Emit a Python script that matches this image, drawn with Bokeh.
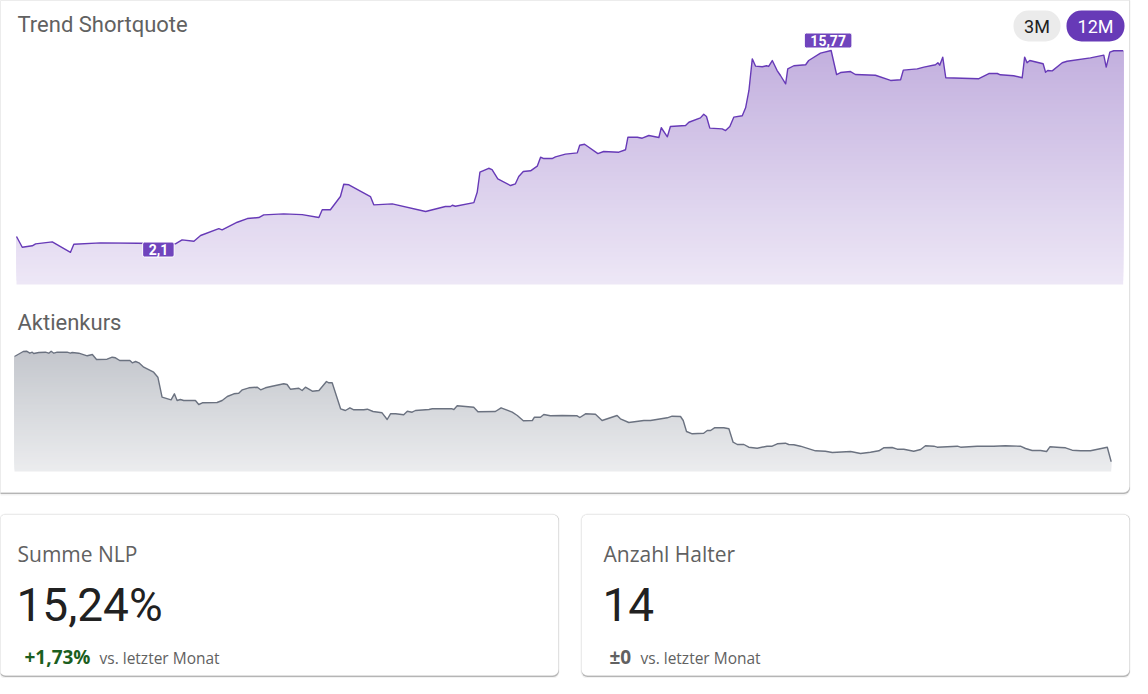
import numpy as np
from bokeh.plotting import figure
from bokeh.models import Range1d, BoxAnnotation, Label
from bokeh.embed import file_html
from bokeh.resources import INLINE

# ------------------------------------------------------------------ data
# Trend Shortquote (12M): day offset within the period, value
trend_day = [0, 1.9, 5.2, 6.3, 11.8, 17.8, 18.9, 27.7, 39.8, 45.8,
             52.4, 54.6, 58.5, 60.7, 66.7, 67.8, 72.8, 76.1, 79.9, 81.5,
             88.1, 94.2, 99.7, 100.8, 103.5, 106.8, 107.9, 109.6, 116.7, 117.8,
             123.9, 134.9, 141.4, 143.1, 143.7, 144.7, 150.8, 151.9, 152.8, 155.7,
             156.8, 158.7, 162.9, 164.5, 165.6, 167.1, 169.5, 171.7, 172.8, 173.9,
             176.6, 177.7, 181.0, 184.9, 185.7, 187.3, 191.7, 193.6, 198.6, 200.8,
             201.6, 204.7, 206.3, 208.5, 211.8, 212.6, 214.6, 215.6, 220.6, 221.7,
             225.5, 226.6, 227.5, 228.6, 232.7, 233.8, 235.2, 236.5, 239.3, 240.4,
             241.5, 242.6, 243.7, 245.9, 247.3, 248.0, 249.2, 250.8, 251.9, 253.6,
             254.3, 256.3, 260.2, 261.2, 265.1, 268.6, 270.4, 271.7, 275.0, 276.6,
             283.2, 288.2, 291.5, 292.4, 297.0, 299.2, 303.0, 303.8, 304.4, 305.4,
             306.4, 317.3, 320.6, 323.4, 324.4, 328.8, 331.6, 332.4, 333.2, 334.1,
             338.5, 339.3, 340.0, 341.5, 344.8, 346.4, 354.1, 358.5, 359.3, 360.5,
             361.8, 364.9]
trend_val = [2.60, 1.84, 1.94, 2.08, 2.22, 1.48, 2.05, 2.15, 2.12, 2.10,
             2.08, 2.36, 2.26, 2.67, 3.16, 3.07, 3.61, 3.87, 3.94, 4.13,
             4.20, 4.15, 3.94, 4.49, 4.49, 5.43, 6.30, 6.26, 5.43, 4.84,
             4.91, 4.37, 4.72, 4.72, 4.81, 4.74, 5.00, 5.73, 7.15, 7.43,
             7.34, 6.68, 6.21, 6.33, 6.85, 7.20, 7.25, 7.58, 8.21, 8.12,
             8.12, 8.24, 8.43, 8.52, 9.06, 9.13, 8.47, 8.62, 8.57, 8.74,
             9.63, 9.63, 9.56, 9.75, 9.61, 10.30, 9.66, 10.39, 10.46, 10.69,
             11.00, 11.26, 11.10, 10.27, 10.22, 10.10, 10.39, 11.05, 11.15, 11.71,
             12.94, 15.18, 14.66, 14.62, 14.69, 14.64, 15.06, 14.35, 14.00, 13.41,
             14.47, 14.69, 14.76, 15.06, 15.58, 15.77, 14.07, 14.21, 14.28, 14.07,
             14.02, 13.65, 13.70, 14.38, 14.47, 14.59, 14.76, 14.90, 14.73, 15.30,
             13.84, 13.77, 14.14, 14.14, 14.05, 13.98, 13.84, 15.30, 14.90, 15.06,
             14.83, 14.23, 14.35, 14.33, 14.90, 15.01, 15.25, 15.44, 14.59, 15.65,
             15.75, 15.75]
trend_mark_day = [45.8, 268.6]
trend_mark_val = [2.10, 15.77]
trend_mark_text = ["2,1", "15,77"]

# Aktienkurs (12M): day offset, price
price_day = [0, 2.9, 4.0, 5.1, 5.9, 6.4, 8.1, 10.3, 11.4, 12.2,
             13.1, 14.2, 17.5, 18.6, 19.2, 21.4, 24.2, 25.9, 27.3, 30.8,
             32.5, 33.6, 35.0, 38.4, 39.2, 40.3, 41.4, 43.0, 46.3, 47.7,
             49.1, 52.1, 53.2, 54.1, 55.2, 56.3, 60.2, 61.3, 62.5, 67.4,
             69.1, 70.8, 73.0, 74.6, 75.8, 78.0, 80.8, 81.9, 83.5, 85.7,
             89.6, 90.7, 91.8, 94.6, 95.7, 96.8, 99.1, 101.3, 103.8, 104.6,
             105.7, 108.5, 110.1, 111.6, 112.9, 116.2, 117.4, 119.3, 122.3, 124.0,
             125.1, 126.8, 129.5, 130.7, 132.3, 133.4, 137.9, 139.0, 145.6, 146.2,
             147.3, 152.8, 154.2, 160.0, 161.9, 165.6, 167.3, 169.3, 172.3, 173.0,
             175.0, 176.1, 178.3, 182.2, 187.2, 188.1, 190.0, 193.3, 195.5, 200.5,
             201.6, 204.4, 209.4, 211.6, 217.2, 218.8, 221.6, 222.5, 223.6, 225.5,
             229.3, 230.5, 231.6, 232.9, 236.0, 237.7, 239.1, 240.5, 242.7, 244.3,
             247.1, 250.4, 252.1, 253.8, 256.5, 257.6, 259.3, 261.5, 266.5, 269.8,
             272.1, 278.2, 281.5, 284.8, 287.6, 289.2, 292.0, 293.7, 295.9, 299.2,
             301.5, 303.1, 305.9, 307.0, 313.7, 314.8, 320.3, 325.8, 329.7, 334.7,
             336.4, 338.6, 341.4, 343.4, 344.5, 348.0, 349.7, 351.9, 354.7, 358.0,
             363.6, 364.9]
price_val = [21.50, 22.00, 22.03, 21.83, 21.93, 21.80, 21.90, 21.93, 21.83, 22.03,
             21.83, 21.93, 21.93, 21.83, 21.90, 21.83, 21.57, 21.70, 21.20, 21.23,
             21.43, 21.37, 21.10, 21.10, 20.87, 21.00, 20.87, 20.43, 19.93, 19.43,
             17.43, 17.17, 17.77, 17.10, 17.20, 17.10, 17.10, 16.70, 16.87, 16.90,
             17.10, 17.50, 17.77, 17.83, 18.17, 18.37, 18.43, 18.17, 18.37, 18.53,
             18.77, 18.70, 18.23, 18.33, 18.10, 18.43, 18.03, 18.10, 19.00, 18.87,
             18.87, 16.27, 16.10, 16.37, 16.17, 16.17, 16.23, 16.00, 15.87, 15.20,
             15.77, 15.77, 15.67, 16.03, 15.93, 16.10, 16.20, 16.27, 16.27, 16.20,
             16.57, 16.43, 15.97, 16.00, 16.37, 15.93, 15.60, 15.07, 15.10, 15.43,
             15.43, 15.70, 15.57, 15.60, 15.57, 15.40, 15.77, 15.73, 15.10, 15.60,
             15.27, 14.90, 15.10, 15.10, 15.37, 15.53, 15.50, 15.10, 14.00, 13.77,
             13.83, 14.10, 14.10, 14.37, 14.37, 14.27, 12.93, 12.70, 12.70, 12.43,
             12.33, 12.53, 12.53, 12.77, 12.83, 12.70, 12.67, 12.53, 12.07, 12.03,
             11.90, 12.00, 11.80, 11.93, 12.07, 12.37, 12.40, 12.23, 12.23, 12.03,
             12.20, 12.57, 12.53, 12.43, 12.53, 12.43, 12.53, 12.53, 12.57, 12.53,
             12.30, 12.10, 12.10, 12.00, 12.47, 12.40, 12.37, 12.13, 12.07, 12.07,
             12.43, 10.97]

periods = ["3M", "12M"]
chart_titles = ["Trend Shortquote", "Aktienkurs"]
kpi_titles = ["Summe NLP", "Anzahl Halter"]
kpi_values = ["15,24%", "14"]
kpi_deltas = ["+1,73%", "±0"]
kpi_note = "vs. letzter Monat"

# ------------------------------------------------------------------ layout
W, H = 1132, 678
X0, X1 = 0, W        # reference pixels spanned by the frame
Y0, Y1 = 0, H


def mapped(d0, d1, q0, q1, Q0, Q1):
    """Range whose value d0 lies at pixel q0 and d1 at q1, frame from Q0 to Q1."""
    s = (d1 - d0) / (q1 - q0)
    return Range1d(d0 + (Q0 - q0) * s, d0 + (Q1 - q0) * s)


p = figure(width=W, height=H, output_backend="svg", toolbar_location=None,
           x_range=Range1d(X0, X1), y_range=Range1d(Y1, Y0),
           x_axis_type=None, y_axis_type=None, min_border=0,
           background_fill_color="white", border_fill_color="white")
p.outline_line_color = None
p.grid.visible = False

# chart scales
TREND_LO, TREND_HI = -0.8, 15.77
PRICE_LO, PRICE_HI = 10.0, 22.0
p.extra_x_ranges = {"tx": mapped(0, 365, 16, 1123, X0, X1),
                    "px": mapped(0, 365, 14, 1111, X0, X1)}
p.extra_y_ranges = {"ty": mapped(TREND_LO, TREND_HI, 284, 50, Y1, Y0),
                    "py": mapped(PRICE_LO, PRICE_HI, 471, 351, Y1, Y0)}


def card(l, r, t, b):
    p.add_layout(BoxAnnotation(left=l - 1, right=r + 1, top=t - 1, bottom=b + 3,
                               fill_color="black", fill_alpha=0.05, line_color=None,
                               border_radius=7, level="underlay"))
    p.add_layout(BoxAnnotation(left=l, right=r + 0.5, top=t, bottom=b + 1.5,
                               fill_color="#8c8c8c", fill_alpha=0.6, line_color=None,
                               border_radius=6, level="underlay"))
    p.add_layout(BoxAnnotation(left=l, right=r, top=t, bottom=b,
                               fill_color="white", fill_alpha=1, line_color="#f1f1f1",
                               line_width=1, border_radius=6, level="underlay"))


card(-20, 1129, -20, 492)
card(-1, 558, 514, 675)
card(581, 1129, 514, 675)


def hex_lerp(c0, c1, t):
    a = np.array([int(c0[i:i + 2], 16) for i in (1, 3, 5)], dtype=float)
    b = np.array([int(c1[i:i + 2], 16) for i in (1, 3, 5)], dtype=float)
    c = a + (b - a) * t
    return "#%02x%02x%02x" % tuple(int(round(v)) for v in c)


def area_chart(days, vals, lo, hi, xr, yr, c_bot, c_top, line_color, n=60):
    top = hi + (hi - lo) * 0.03
    edges = np.linspace(lo, top, n + 1)[:-1]
    colors = [hex_lerp(c_bot, c_top, min(1.0, (e - lo) / (hi - lo))) for e in edges]
    p.quad(left=days[0], right=days[-1], bottom=edges, top=top, fill_color=colors,
           line_color=None, x_range_name=xr, y_range_name=yr)
    mask_top = top + (hi - lo) * 0.02
    p.varea(x=days, y1=vals, y2=mask_top, fill_color="white",
            x_range_name=xr, y_range_name=yr)
    # clean the anti-aliased side edges of the mask
    p.segment(x0=[days[0], days[-1]], y0=[vals[0], vals[-1]],
              x1=[days[0], days[-1]], y1=[mask_top, mask_top],
              line_color="white", line_width=2.5, x_range_name=xr, y_range_name=yr)
    p.line(days, vals, line_color=line_color, line_width=1.4, line_join="round",
           x_range_name=xr, y_range_name=yr)


area_chart(trend_day, trend_val, TREND_LO, TREND_HI, "tx", "ty",
           "#ede7f6", "#c2afde", "#673ab7")
area_chart(price_day, price_val, PRICE_LO, PRICE_HI, "px", "py",
           "#ebecee", "#c3c6cc", "#6b7280")

# value markers on the trend chart
offsets = [(3, -6), (-3, 10)]
for d, v, t, (ox, oy) in zip(trend_mark_day, trend_mark_val, trend_mark_text, offsets):
    p.add_layout(Label(x=d, y=v, x_range_name="tx", y_range_name="ty", text=t,
                       x_offset=ox, y_offset=oy, text_align="center",
                       text_baseline="middle", text_font="Roboto",
                       text_font_style="bold", text_font_size="14px",
                       text_color="white", background_fill_color="#7044bd",
                       background_fill_alpha=1, border_line_color="white",
                       border_line_width=1, border_radius=2,
                       padding=dict(left=6, right=6, top=2, bottom=2)))


def text(x, y, t, size, color, font="Roboto", bold=False, align="left"):
    # y is the wanted baseline; Label's text box sits ~0.41em lower than y
    p.add_layout(Label(x=x, y=y - 0.41 * size, text=t, text_font=font,
                       text_font_size=f"{size}px", text_color=color,
                       text_font_style="bold" if bold else "normal",
                       text_align=align, text_baseline="alphabetic"))


# period buttons
btn_boxes = [(1013, 1060), (1066, 1124)]
btn_fill = ["#ebebeb", "#673ab7"]
btn_text = ["#212121", "#ffffff"]
for (l, r), lab, fc, tc in zip(btn_boxes, periods, btn_fill, btn_text):
    p.add_layout(BoxAnnotation(left=l, right=r, top=10, bottom=41, fill_color=fc,
                               fill_alpha=1, line_color=None, border_radius=15))
    text((l + r) / 2, 33, lab, 18, tc, align="center")

# chart titles
for t, y in zip(chart_titles, [33.5, 331]):
    text(17, y, t, 22, "#616161")

# KPI cards
for i, x in enumerate([16, 602]):
    text(x + 1, 562, kpi_titles[i], 21, "#616161", font="Open Sans")
    text(x, 623, kpi_values[i], 46, "#212121")
dx = [24, 609]
note_x = [99, 640]
delta_col = ["#1b5e20", "#616161"]
for i in range(2):
    text(dx[i], 664, kpi_deltas[i], 19, delta_col[i], font="Open Sans", bold=True)
    text(note_x[i], 664, kpi_note, 15.5, "#616161", font="Open Sans")

open("out.html", "w").write(file_html(p, INLINE))
